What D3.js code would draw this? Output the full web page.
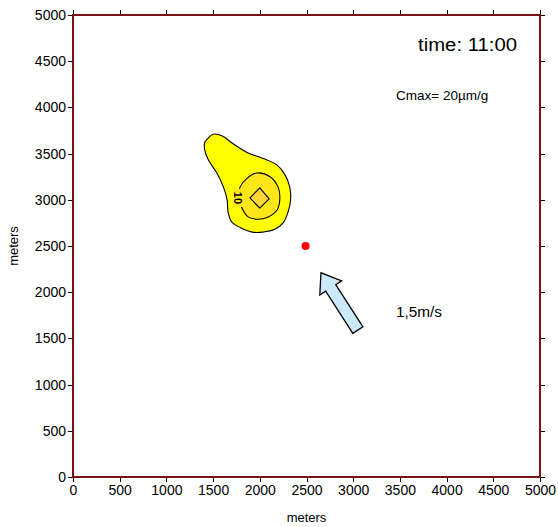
<!DOCTYPE html>
<html>
<head>
<meta charset="utf-8">
<script src="https://cdn.jsdelivr.net/npm/d3@7"></script>
<style>
  html, body { margin: 0; padding: 0; background: #fff; }
  svg { display: block; font-family: "Liberation Sans", Arial, sans-serif; }
</style>
</head>
<body>
<svg id="chart" width="558" height="527"></svg>
<script>
// Domain in meters, tick values shared by both axes
const domainMeters = [0, 5000];
const tickValues = [0, 500, 1000, 1500, 2000, 2500, 3000, 3500, 4000, 4500, 5000];

// Concentration contours (x, y in meters), outermost first
const contourOuter = [
  [1500, 3710], [1600, 3690], [1710, 3610], [1870, 3510], [2030, 3450],
  [2180, 3380], [2270, 3270], [2320, 3140], [2330, 3000], [2300, 2860],
  [2250, 2750], [2160, 2680], [2030, 2650], [1920, 2650], [1790, 2700],
  [1700, 2760], [1660, 2870], [1650, 3000], [1610, 3140], [1540, 3290],
  [1450, 3430], [1410, 3540], [1410, 3620], [1450, 3670]
];
const contourTen = [
  [1970, 3290], [2110, 3250], [2195, 3140], [2215, 3020], [2185, 2890],
  [2090, 2815], [1980, 2790], [1875, 2815], [1810, 2910], [1765, 3020],
  [1790, 3140], [1865, 3235]
];
const contourCore = [[2000, 3130], [2100, 3010], [2000, 2910], [1895, 3020]];
const contourLevels = [
  { name: "outer", points: contourOuter, fill: "#ffff00", smooth: true },
  { name: "10", points: contourTen, fill: "#ffe619", smooth: true },
  { name: "core", points: contourCore, fill: "#ffd633", smooth: false }
];
const contourLabel = { text: "10", x: 1770, y: 3020 };

// Source location and wind vector (tail → tip, meters)
const sourcePoint = [2490, 2500];
const windArrow = { from: [3050, 1590], to: [2655, 2210], label: "1,5m/s" };

const timeLabel = "time: 11:00";
const cmaxLabel = "Cmax= 20\u00b5m/g";

const svg = d3.select("#chart");
const frame = { left: 73, right: 540, top: 15, bottom: 477 };
const x = d3.scaleLinear().domain(domainMeters).range([frame.left, frame.right]);
const y = d3.scaleLinear().domain(domainMeters).range([frame.bottom, frame.top]);

// Filled contour bands
const smoothLine = d3.line()
  .x(d => x(d[0])).y(d => y(d[1]))
  .curve(d3.curveCatmullRomClosed.alpha(0.5));
const sharpLine = d3.line()
  .x(d => x(d[0])).y(d => y(d[1]))
  .curve(d3.curveLinearClosed);
svg.append("g").selectAll("path")
  .data(contourLevels)
  .join("path")
  .attr("d", d => (d.smooth ? smoothLine : sharpLine)(d.points))
  .attr("fill", d => d.fill)
  .attr("stroke", d => d.name === "10" ? "none" : "#000")
  .attr("stroke-width", 1.1)
  .attr("stroke-linejoin", "round");

// The "10" contour line, broken where its label sits
svg.append("path")
  .attr("d", smoothLine(contourTen))
  .attr("fill", "none")
  .attr("stroke", "#000")
  .attr("stroke-width", 1.1);
svg.append("rect")
  .attr("x", x(contourLabel.x) - 5).attr("y", y(contourLabel.y) - 9)
  .attr("width", 10).attr("height", 18)
  .attr("fill", "#ffe619");
svg.append("text")
  .attr("transform", `translate(${x(contourLabel.x)},${y(contourLabel.y)}) rotate(90)`)
  .attr("text-anchor", "middle")
  .attr("dy", "0.35em")
  .attr("font-size", 11)
  .attr("font-weight", "bold")
  .text(contourLabel.text);

// Source point
svg.append("circle")
  .attr("cx", x(sourcePoint[0])).attr("cy", y(sourcePoint[1]))
  .attr("r", 4).attr("fill", "#ff0000");

// Wind arrow built along its own direction
{
  const x0 = x(windArrow.from[0]), y0 = y(windArrow.from[1]);
  const x1 = x(windArrow.to[0]), y1 = y(windArrow.to[1]);
  const len = Math.hypot(x1 - x0, y1 - y0);
  const ang = Math.atan2(y1 - y0, x1 - x0) * 180 / Math.PI;
  const sw = 6, hw = 13, hl = 18;
  const shape = [[0, -sw], [len - hl, -sw], [len - hl, -hw], [len, 0],
                 [len - hl, hw], [len - hl, sw], [0, sw]];
  svg.append("path")
    .attr("transform", `translate(${x0},${y0}) rotate(${ang})`)
    .attr("d", d3.line()(shape) + "Z")
    .attr("fill", "#cce8fb")
    .attr("stroke", "#000")
    .attr("stroke-width", 1.3)
    .attr("stroke-linejoin", "miter");
}

// Annotations
svg.append("text").attr("x", 418).attr("y", 51)
  .attr("font-size", 18).attr("textLength", 99).attr("lengthAdjust", "spacingAndGlyphs")
  .text(timeLabel);
svg.append("text").attr("x", 396).attr("y", 100)
  .attr("font-size", 13.5).text(cmaxLabel);
svg.append("text").attr("x", 396).attr("y", 317)
  .attr("font-size", 14.5).attr("textLength", 46).attr("lengthAdjust", "spacingAndGlyphs")
  .text(windArrow.label);

// Axes: labelled on left and bottom, tick-only on top and right
const axisFont = 14;
const bottomAxis = svg.append("g").attr("transform", `translate(0,${frame.bottom})`)
  .call(d3.axisBottom(x).tickValues(tickValues).tickSize(5).tickPadding(3).tickFormat(d3.format("d")));
const leftAxis = svg.append("g").attr("transform", `translate(${frame.left},0)`)
  .call(d3.axisLeft(y).tickValues(tickValues).tickSize(5).tickPadding(2).tickFormat(d3.format("d")));
const topAxis = svg.append("g").attr("transform", `translate(0,${frame.top})`)
  .call(d3.axisTop(x).tickValues(tickValues).tickSize(5).tickFormat(""));
const rightAxis = svg.append("g").attr("transform", `translate(${frame.right},0)`)
  .call(d3.axisRight(y).tickValues(tickValues).tickSize(5).tickFormat(""));
[bottomAxis, leftAxis, topAxis, rightAxis].forEach(g => {
  g.select(".domain").remove();
  g.selectAll("line").attr("stroke", "#000").attr("shape-rendering", "crispEdges");
  g.selectAll("text").attr("font-size", axisFont).attr("fill", "#000")
    .attr("font-family", "'Liberation Sans', Arial, sans-serif");
});

// Frame
svg.append("rect")
  .attr("x", frame.left).attr("y", frame.top)
  .attr("width", frame.right - frame.left).attr("height", frame.bottom - frame.top)
  .attr("fill", "none").attr("stroke", "#7a1414").attr("stroke-width", 1.2)
  .attr("shape-rendering", "crispEdges");

// Axis titles
svg.append("text").attr("x", (frame.left + frame.right) / 2).attr("y", 522)
  .attr("text-anchor", "middle").attr("font-size", 13).text("meters");
svg.append("text")
  .attr("transform", `translate(18,${(frame.top + frame.bottom) / 2}) rotate(-90)`)
  .attr("text-anchor", "middle").attr("font-size", 13).text("meters");
</script>
</body>
</html>
